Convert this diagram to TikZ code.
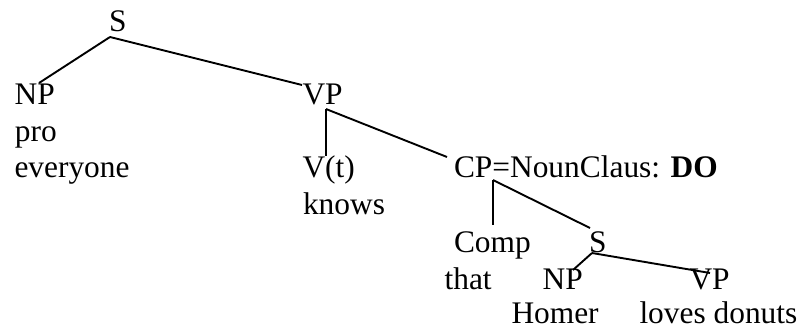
\documentclass[tikz,border=0pt]{standalone}
\usepackage{fontspec}
\setmainfont{Liberation Serif}
\begin{document}
\begin{tikzpicture}[x=1pt,y=-1pt,
  lbl/.style={anchor=base west,inner sep=0pt,outer sep=0pt,font=\fontsize{31.4}{36}\selectfont},
  edge/.style={line width=1.9pt}]
\useasboundingbox (0,0) rectangle (804,333);
% nodes
\node[lbl] (S1)  at (109,31)   {S};
\node[lbl] (NP1) at (14.6,104) {NP};
\node[lbl] (pro) at (15,141)   {pro};
\node[lbl] (ev)  at (14.5,177) {everyone};
\node[lbl] (VP1) at (302.5,104){VP};
\node[lbl] (V)   at (302.5,177){V(t)};
\node[lbl] (kn)  at (303,214)  {knows};
\node[lbl] (CP)  at (454,177)  {CP=NounClaus: \textbf{DO}};
\node[lbl] (Comp) at (454,252) {Comp};
\node[lbl] (that) at (444.6,289) {that};
\node[lbl] (S2)  at (589,252)  {S};
\node[lbl] (NP2) at (542.6,289){NP};
\node[lbl] (VP2) at (689.5,289){VP};
\node[lbl] (hom) at (511.5,323){Homer};
\node[lbl] (ld)  at (639.5,323){loves donuts};
% connectors
\draw[edge] ([shift={(1,6)}]S1.base west) -- ([shift={(24.4,-21)}]NP1.base west);
\draw[edge] ([shift={(1,6)}]S1.base west) -- ([shift={(-0.5,-19)}]VP1.base west);
\draw[edge] ([shift={(23.5,5)}]VP1.base west) -- ([shift={(23.5,-21)}]V.base west);
\draw[edge] ([shift={(23.5,5)}]VP1.base west) -- ([shift={(-7,-20)}]CP.base west);
\draw[edge] ([shift={(39,3)}]CP.base west) -- ([shift={(39,-27)}]Comp.base west);
\draw[edge] ([shift={(39,3)}]CP.base west) -- ([shift={(1,-24)}]S2.base west);
\draw[edge] ([shift={(3,1)}]S2.base west) -- ([shift={(30.4,-19)}]NP2.base west);
\draw[edge] ([shift={(3,1)}]S2.base west) -- ([shift={(20.5,-16)}]VP2.base west);
\end{tikzpicture}
\end{document}
